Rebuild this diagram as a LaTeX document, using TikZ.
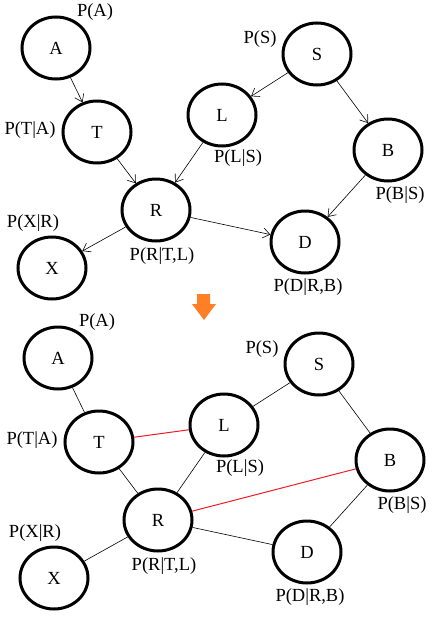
\documentclass[tikz,border=0pt]{standalone}
\usepackage{fontspec}
\setmainfont{Liberation Serif}
\usetikzlibrary{shapes.geometric, arrows.meta}

\definecolor{paintorange}{RGB}{255,127,39}
\definecolor{paintred}{RGB}{237,28,36}

\begin{document}
\begin{tikzpicture}[
        x=1pt, y=-1pt,
        >={Straight Barb[length=7pt, width=10pt]},
        var/.style={ellipse, draw=black, line width=3pt, minimum width=68pt, minimum height=62pt, inner sep=0pt, font=\fontsize{18.5}{20}\selectfont},
        prob/.style={inner sep=0pt, font=\fontsize{18.5}{20}\selectfont},
        arrow/.style={->, line width=0.6pt, draw=black},
        link/.style={line width=0.6pt, draw=black},
        moral/.style={line width=1pt, draw=paintred}
    ]

    \useasboundingbox (0,0) rectangle (435,621);

    % directed network
    \node[var] (a) at (56,48) {A};
    \node[var] (t) at (97,132) {T};
    \node[var] (s) at (317,54) {S};
    \node[var] (l) at (222,115) {L};
    \node[var] (b) at (388,150) {B};
    \node[var] (r) at (156,210) {R};
    \node[var] (x) at (52,268) {X};
    \node[var] (d) at (305,242) {D};

    \node[prob] (pa) at (95,12) {P(A)};
    \node[prob] (pt) at (30,130) {P(T|A)};
    \node[prob] (ps) at (260,39) {P(S)};
    \node[prob] (pl) at (238,158) {P(L|S)};
    \node[prob] (pb) at (400,195) {P(B|S)};
    \node[prob] (pr) at (162,256) {P(R|T,L)};
    \node[prob] (px) at (33,223) {P(X|R)};
    \node[prob] (pd) at (308,287) {P(D|R,B)};

    \draw[arrow] (a) -- (t);
    \draw[arrow] (s) -- (l);
    \draw[arrow] (s) -- (b);
    \draw[arrow] (t) -- (r);
    \draw[arrow] (l) -- (r);
    \draw[arrow] (r) -- (x);
    \draw[arrow] (r) -- (d);
    \draw[arrow] (b) -- (d);

    % orange arrow between the two networks
    \fill[paintorange] (197,294) -- (210,294) -- (210,304) -- (216,304) -- (204,320)
        -- (192,304) -- (197,304) -- cycle;

    % moral graph
    \node[var] (a2) at (58,358) {A};
    \node[var] (t2) at (99,442) {T};
    \node[var] (s2) at (319,364) {S};
    \node[var] (l2) at (224,425) {L};
    \node[var] (b2) at (390,460) {B};
    \node[var] (r2) at (158,520) {R};
    \node[var] (x2) at (54,578) {X};
    \node[var] (d2) at (307,552) {D};

    \node[prob] (pa2) at (97,322) {P(A)};
    \node[prob] (pt2) at (32,440) {P(T|A)};
    \node[prob] (ps2) at (262,349) {P(S)};
    \node[prob] (pl2) at (240,468) {P(L|S)};
    \node[prob] (pb2) at (402,505) {P(B|S)};
    \node[prob] (pr2) at (164,566) {P(R|T,L)};
    \node[prob] (px2) at (35,533) {P(X|R)};
    \node[prob] (pd2) at (310,597) {P(D|R,B)};

    \draw[link] (a2) -- (t2);
    \draw[link] (s2) -- (l2);
    \draw[link] (s2) -- (b2);
    \draw[link] (t2) -- (r2);
    \draw[link] (l2) -- (r2);
    \draw[link] (r2) -- (x2);
    \draw[link] (r2) -- (d2);
    \draw[link] (b2) -- (d2);
    \draw[moral] (t2) -- (l2);
    \draw[moral] (r2) -- (b2);

\end{tikzpicture}
\end{document}
